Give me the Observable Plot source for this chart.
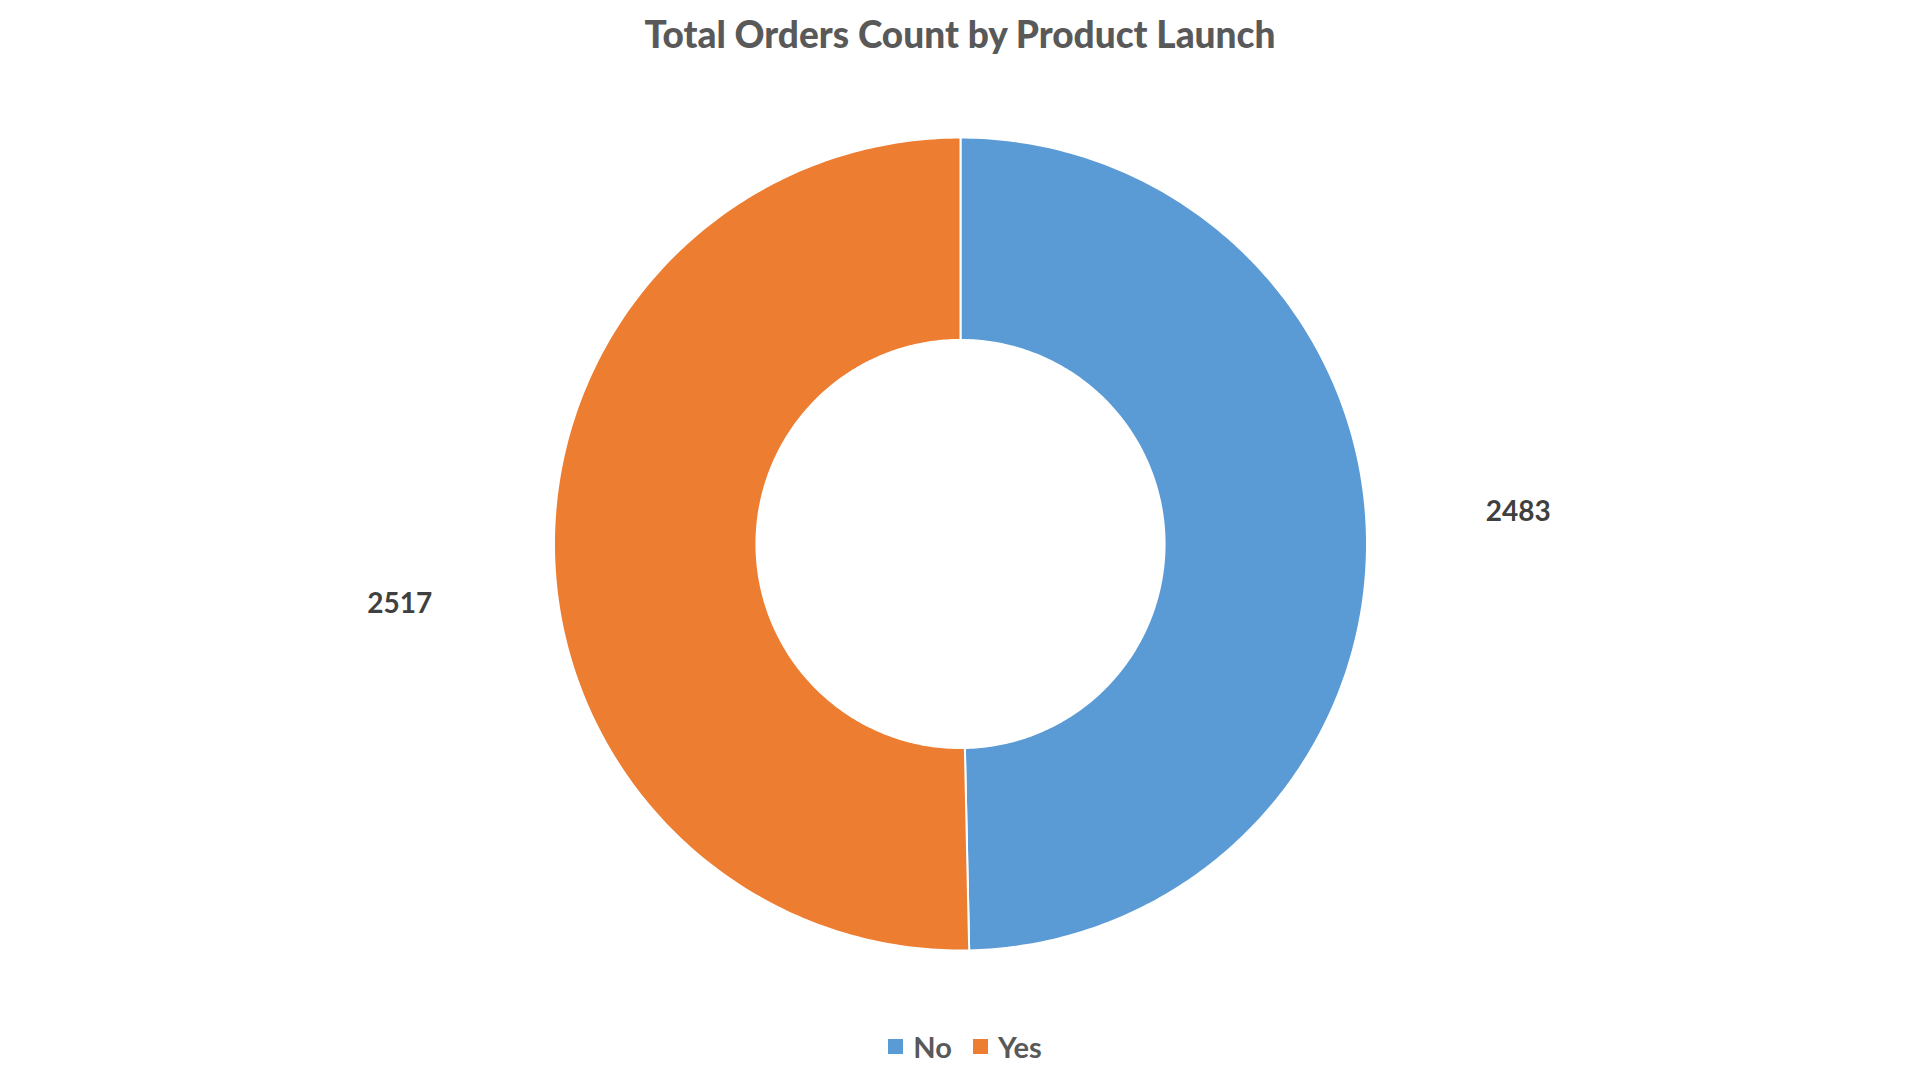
<!DOCTYPE html>
<html>
<head>
<meta charset="utf-8">
<script src="https://cdn.jsdelivr.net/npm/d3@7"></script>
<script src="https://cdn.jsdelivr.net/npm/@observablehq/plot@0.6"></script>
<style>
  html, body { margin: 0; padding: 0; background: #fff; }
  body { width: 1920px; height: 1080px; overflow: hidden; font-family: Lato, "Open Sans", sans-serif; }
  #title { height: 70px; line-height: 68px; text-align: center; font-weight: 900; font-size: 37px; color: #595959; }
  #chart { height: 940px; }
  #legend { height: 70px; display: flex; justify-content: center; align-items: center; padding-top: 18px; padding-left: 10px; box-sizing: border-box; }
  #legend div, #legend span { font-family: Lato, sans-serif !important; font-weight: bold !important; font-size: 29px !important; color: #595959 !important; }
  #legend span { margin-right: 21px !important; }
  #legend span:last-child { margin-right: 0 !important; }
  #legend svg { margin-right: 10px !important; }
</style>
</head>
<body>
<div id="title">Total Orders Count by Product Launch</div>
<div id="chart"></div>
<div id="legend"></div>
<script>
// ---- data ----
const categories = ["No", "Yes"];
const orderCounts = [2483, 2517];
const sliceColors = ["#5B9BD5", "#ED7D31"];

// ---- layout constants ----
const W = 1920, H = 940;
const outerR = 1, innerR = 0.502;        // data units
const pxPerUnit = 406.5;
const cx = 960, cy = 473.5;               // pixel centre inside the svg
const labelR = 1.372;
const labelDx = { No: 0, Yes: -3 };
const labelDy = { No: -26, Yes: 54 };

const data = categories.map((c, i) => ({ category: c, value: orderCounts[i] }));
const arcs = d3.pie().sort(null).value(d => d.value)(data);

// polygon outline of each ring slice, derived from pie angles
const slicePts = [];
arcs.forEach(a => {
  const n = 240;
  for (let k = 0; k <= n; k++) {
    const t = a.startAngle + (a.endAngle - a.startAngle) * k / n;
    slicePts.push({ category: a.data.category, x: outerR * Math.sin(t), y: outerR * Math.cos(t) });
  }
  for (let k = n; k >= 0; k--) {
    const t = a.startAngle + (a.endAngle - a.startAngle) * k / n;
    slicePts.push({ category: a.data.category, x: innerR * Math.sin(t), y: innerR * Math.cos(t) });
  }
});

const labels = arcs.map(a => {
  const m = (a.startAngle + a.endAngle) / 2;
  return { category: a.data.category, value: a.data.value, x: labelR * Math.sin(m), y: labelR * Math.cos(m) };
});

const chart = Plot.plot({
  width: W,
  height: H,
  margin: 0,
  x: { domain: [-cx / pxPerUnit, (W - cx) / pxPerUnit], axis: null },
  y: { domain: [-(H - cy) / pxPerUnit, cy / pxPerUnit], axis: null },
  color: { domain: categories, range: sliceColors },
  style: { background: "#fff" },
  marks: [
    Plot.line(slicePts, {
      x: "x", y: "y", z: "category",
      fill: "category", stroke: "#fff", strokeWidth: 2,
      curve: "linear-closed"
    }),
    Plot.text(labels, {
      x: "x", y: "y",
      text: d => String(d.value),
      fontSize: 28, fontWeight: "bold", fontFamily: "Lato, sans-serif",
      fill: "#404040"
    })
  ]
});

// apply per-label offsets
chart.querySelectorAll("text").forEach((t, i) => {
  const c = labels[i].category;
  t.setAttribute("dy", (parseFloat(t.getAttribute("dy") || 0) + labelDy[c]));
  t.setAttribute("dx", (parseFloat(t.getAttribute("dx") || 0) + labelDx[c]));
});

document.getElementById("chart").appendChild(chart);

const legend = Plot.legend({
  color: { type: "categorical", domain: categories, range: sliceColors },
  legend: "swatches",
  swatchSize: 15
});
document.getElementById("legend").appendChild(legend);
</script>
</body>
</html>
